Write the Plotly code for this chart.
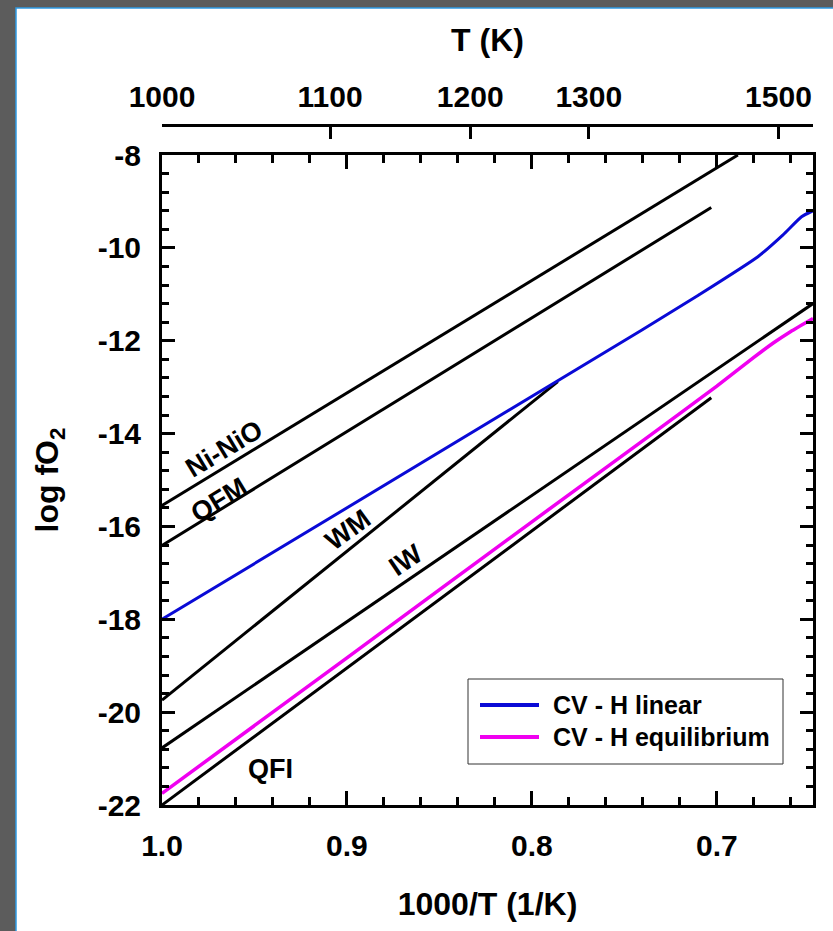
import plotly.graph_objects as go

# ---------------- data (x = 1000/T in 1/K, y = log fO2) ----------------
nino_x = [1.0, 0.6886]
nino_y = [-15.55, -8.0]

qfm_x = [1.0, 0.703]
qfm_y = [-16.41, -9.13]

wm_x = [1.0, 0.786]
wm_y = [-19.74, -12.88]

iw_x = [1.0, 0.648]
iw_y = [-20.77, -11.20]

qfi_x = [1.0, 0.703]
qfi_y = [-22.0, -13.23]

lin_x = [1.0, 0.7405, 0.7100, 0.6778, 0.6642, 0.6542, 0.648]
lin_y = [-18.0, -11.77, -11.02, -10.19, -9.72, -9.33, -9.20]

eq_x = [1.0, 0.9, 0.8, 0.7405, 0.70, 0.68, 0.6695, 0.66, 0.648]
eq_y = [-21.75, -18.83, -15.90, -14.17, -12.98, -12.36, -12.05, -11.80, -11.52]

series_names = ["CV - H linear", "CV - H equilibrium"]
series_colors = ["#0a0ad6", "#f000f0"]

x_range = [1.0, 0.648]
y_range = [-22, -8]
x_ticks = [1.0, 0.9, 0.8, 0.7]
x_ticktext = ["1.0", "0.9", "0.8", "0.7"]
y_ticks = [-22, -20, -18, -16, -14, -12, -10, -8]
y_ticktext = ["-22", "-20", "-18", "-16", "-14", "-12", "-10", "-8"]
T_ticks = [1000, 1100, 1200, 1300, 1500]

labels = [
    ("Ni-NiO", 0.9665, -14.33, -31),
    ("QFM", 0.9692, -15.43, -31),
    ("WM", 0.8995, -16.08, -36),
    ("IW", 0.868, -16.72, -34),
    ("QFI", 0.9411, -21.22, 0),
]

# ---------------- layout geometry ----------------
W, H = 833, 931
ML, MR, MT, MB = 162, 20, 125, 126
PW = W - ML - MR
PH = H - MT - MB
plot_top_px = 155


def px2paper_x(px):
    return (px - ML) / PW


def px2paper_y(py):
    return (H - MB - py) / PH


FONT = "Liberation Sans, Arial, Helvetica, sans-serif"
BLACK = "black"

fig = go.Figure()

for xs, ys in [(nino_x, nino_y), (qfm_x, qfm_y), (wm_x, wm_y), (iw_x, iw_y), (qfi_x, qfi_y)]:
    fig.add_trace(go.Scatter(x=xs, y=ys, mode="lines", line=dict(color=BLACK, width=3),
                             showlegend=False, hoverinfo="skip"))

for xs, ys, name, col, w in [(lin_x, lin_y, series_names[0], series_colors[0], 3),
                             (eq_x, eq_y, series_names[1], series_colors[1], 3.5)]:
    fig.add_trace(go.Scatter(x=xs, y=ys, mode="lines", name=name, showlegend=False,
                             line=dict(color=col, width=w, shape="spline", smoothing=0.5)))

# invisible trace for the top temperature axis
fig.add_trace(go.Scatter(x=[1000.0 / t for t in T_ticks], y=[-15] * len(T_ticks), xaxis="x2",
                         mode="lines", line=dict(color="rgba(0,0,0,0)"), showlegend=False,
                         hoverinfo="skip"))

for text, x, y, ang in labels:
    fig.add_annotation(x=x, y=y, xref="x", yref="y", text=text, showarrow=False,
                       textangle=ang, font=dict(family=FONT, size=27, color=BLACK, weight="bold"))

# ---------------- legend box (drawn like the reference) ----------------
shapes = [dict(type="rect", xref="paper", yref="paper", layer="below",
               x0=px2paper_x(16), x1=px2paper_x(W + 10), y0=px2paper_y(8), y1=px2paper_y(H + 10),
               fillcolor="white", line=dict(color="#2f9be3", width=1.5)),
          dict(type="rect", xref="paper", yref="paper", layer="above",
               x0=px2paper_x(468), x1=px2paper_x(783), y0=px2paper_y(764), y1=px2paper_y(679),
               fillcolor="white", line=dict(color="#333333", width=1))]
row_y = [705, 737]
for i, (name, col) in enumerate(zip(series_names, series_colors)):
    shapes.append(dict(type="line", xref="paper", yref="paper", layer="above",
                       x0=px2paper_x(480), x1=px2paper_x(539),
                       y0=px2paper_y(row_y[i]), y1=px2paper_y(row_y[i]),
                       line=dict(color=col, width=4)))
    fig.add_annotation(xref="paper", yref="paper", x=px2paper_x(551), y=px2paper_y(row_y[i]),
                       xanchor="left", yanchor="middle", text=name, showarrow=False,
                       font=dict(family=FONT, size=25, color=BLACK, weight="bold"))

tickfont = dict(family=FONT, size=30, color=BLACK, weight="bold")
titlefont = dict(family=FONT, size=32, color=BLACK, weight="bold")

fig.update_layout(
    width=W, height=H,
    margin=dict(l=ML, r=MR, t=MT, b=MB, pad=0),
    paper_bgcolor="#5c5c5c",
    plot_bgcolor="white",
    showlegend=False,
    xaxis=dict(range=x_range, tickvals=x_ticks, ticktext=x_ticktext,
               ticks="inside", ticklen=14, tickwidth=3, tickcolor=BLACK,
               minor=dict(dtick=0.02, tick0=1.0, ticks="inside", ticklen=8, tickwidth=3, tickcolor=BLACK),
               showline=True, linewidth=3, linecolor=BLACK, mirror="ticks",
               showgrid=False, zeroline=False, tickfont=tickfont, ticklabelstandoff=12,
               title=dict(text="1000/T (1/K)", font=titlefont, standoff=32)),
    yaxis=dict(range=y_range, domain=[0, (H - MB - plot_top_px) / PH],
               tickvals=y_ticks, ticktext=y_ticktext,
               ticks="inside", ticklen=13, tickwidth=3, tickcolor=BLACK,
               minor=dict(dtick=0.4, tick0=-22, ticks="inside", ticklen=7, tickwidth=3, tickcolor=BLACK),
               showline=True, linewidth=3, linecolor=BLACK, mirror="ticks",
               showgrid=False, zeroline=False, tickfont=tickfont, ticklabelstandoff=12,
               title=dict(text="log fO<sub>2</sub>", font=titlefont, standoff=30)),
    xaxis2=dict(overlaying="x", anchor="free", position=1, side="top", range=x_range,
                tickvals=[1000.0 / t for t in T_ticks], ticktext=[str(t) for t in T_ticks],
                ticks="inside", ticklen=12, tickwidth=3, tickcolor=BLACK,
                showline=True, linewidth=3, linecolor=BLACK, showgrid=False, zeroline=False,
                tickfont=tickfont, ticklabelstandoff=5,
                title=dict(text="T (K)", font=titlefont, standoff=17)),
    shapes=shapes,
)

fig.write_html("out.html")
